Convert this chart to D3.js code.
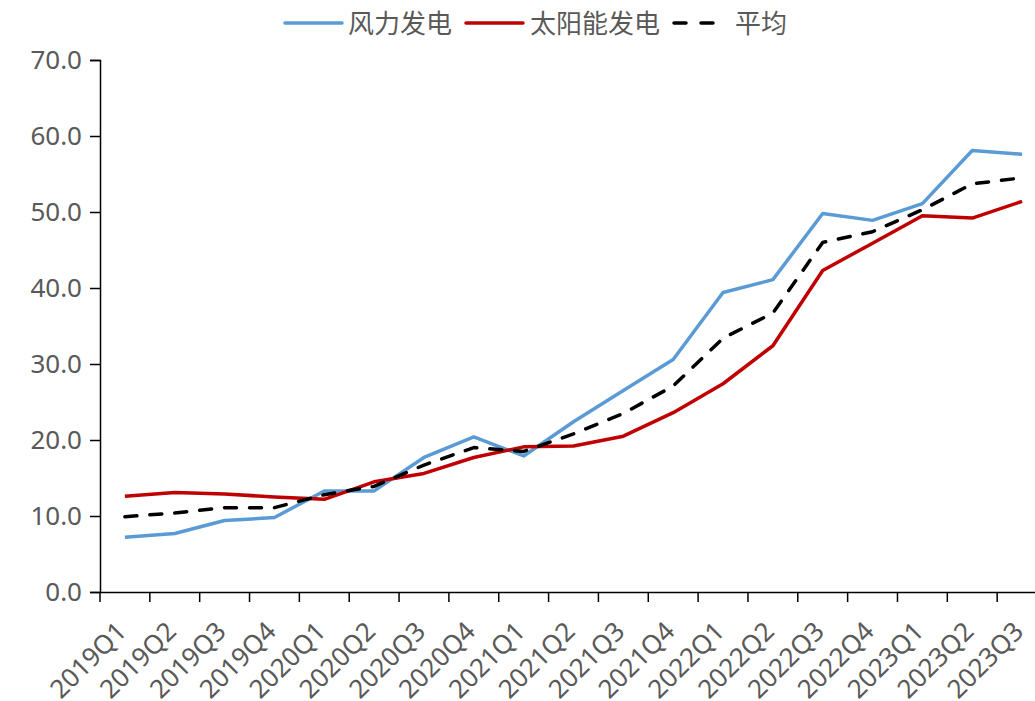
<!DOCTYPE html>
<html>
<head>
<meta charset="utf-8">
<script src="https://cdn.jsdelivr.net/npm/d3@7"></script>
<style>
  body { margin: 0; background: #fff; }
  text { font-family: "Noto Sans", "Noto Sans CJK SC", sans-serif; fill: #595959; }
</style>
</head>
<body>
<div id="plot"></div>
<script>
var width = 1035;
var height = 701;

var quarters = ['2019Q1','2019Q2','2019Q3','2019Q4','2020Q1','2020Q2','2020Q3','2020Q4',
                '2021Q1','2021Q2','2021Q3','2021Q4','2022Q1','2022Q2','2022Q3','2022Q4',
                '2023Q1','2023Q2','2023Q3'];
var wind  = [7.2, 7.7, 9.4, 9.8, 13.3, 13.3, 17.7, 20.4, 17.9, 22.4, 26.5, 30.6, 39.4, 41.1, 49.8, 48.9, 51.1, 58.1, 57.6];
var solar = [12.6, 13.1, 12.9, 12.5, 12.2, 14.5, 15.6, 17.7, 19.1, 19.2, 20.5, 23.6, 27.4, 32.4, 42.3, 45.9, 49.5, 49.2, 51.4];
var avg   = [9.9, 10.4, 11.1, 11.1, 12.8, 13.9, 16.7, 19.0, 18.5, 20.8, 23.5, 27.1, 33.4, 36.7, 46.0, 47.4, 50.3, 53.7, 54.5];
var y_ticks = [0, 10, 20, 30, 40, 50, 60, 70];

var series = [
    {name: '风力发电', values: wind, color: '#5B9BD5', dash: null},
    {name: '太阳能发电', values: solar, color: '#C00000', dash: null},
    {name: '平均', values: avg, color: '#000000', dash: '12,13'}
];

var canvas = d3.select('#plot')
    .append('svg')
    .attr('width', width)
    .attr('height', height);

var x_scale = d3.scaleBand()
    .domain(quarters)
    .range([100, 1047]);

var y_scale = d3.scaleLinear()
    .domain([0, 70])
    .range([592, 60]);

// y axis
var y_axis = d3.axisLeft(y_scale)
    .tickValues(y_ticks)
    .tickSize(10)
    .tickPadding(8)
    .tickFormat(function(d) { return d.toFixed(1); });

var gy = canvas.append('g')
    .attr('class', 'y-axis')
    .attr('transform', 'translate(100,0)')
    .call(y_axis);
gy.select('.domain').attr('stroke', '#000').attr('stroke-width', 1.5);
gy.selectAll('.tick line').attr('stroke', '#000').attr('stroke-width', 1.5);
gy.selectAll('.tick text').attr('font-size', 26).attr('fill', '#595959');

// x axis, ticks between categories
var x_axis = d3.axisBottom(x_scale).tickSize(0).tickFormat('');
var gx = canvas.append('g')
    .attr('class', 'x-axis')
    .attr('transform', 'translate(0,592)')
    .call(x_axis);
gx.select('.domain').attr('stroke', '#000').attr('stroke-width', 1.5);

var bounds = quarters.map(function(q) { return x_scale(q); });
bounds.push(x_scale.range()[1]);
gx.selectAll('line.cat-tick')
    .data(bounds)
    .enter()
    .append('line')
    .attr('class', 'cat-tick')
    .attr('x1', function(d) { return d; })
    .attr('x2', function(d) { return d; })
    .attr('y1', 0)
    .attr('y2', 10)
    .attr('stroke', '#000')
    .attr('stroke-width', 1.5);

canvas.selectAll('text.x-label')
    .data(quarters)
    .enter()
    .append('text')
    .attr('class', 'x-label')
    .attr('text-anchor', 'end')
    .attr('font-size', 26)
    .attr('transform', function(d) {
        var cx = x_scale(d) + x_scale.bandwidth() / 2;
        return 'translate(' + (cx + 3) + ',633) rotate(-45)';
    })
    .text(function(d) { return d; });

// lines
var line_gen = d3.line()
    .x(function(d, i) { return x_scale(quarters[i]) + x_scale.bandwidth() / 2; })
    .y(function(d) { return y_scale(d); });

canvas.selectAll('path.series')
    .data(series)
    .enter()
    .append('path')
    .attr('class', 'series')
    .attr('d', function(d) { return line_gen(d.values); })
    .attr('fill', 'none')
    .attr('stroke', function(d) { return d.color; })
    .attr('stroke-width', 3.5)
    .attr('stroke-linejoin', 'round')
    .attr('stroke-linecap', function(d) { return d.dash ? 'round' : 'butt'; })
    .attr('stroke-dasharray', function(d) { return d.dash; });

// legend
var legend_pos = [
    {x1: 285, x2: 342, tx: 348},
    {x1: 466, x2: 523, tx: 530},
    {x1: 674, x2: 715, tx: 735}
];
var legend = canvas.append('g').attr('class', 'legend');
series.forEach(function(s, i) {
    var p = legend_pos[i];
    legend.append('line')
        .attr('x1', p.x1).attr('x2', p.x2)
        .attr('y1', 23).attr('y2', 23)
        .attr('stroke', s.color)
        .attr('stroke-width', 3.5)
        .attr('stroke-linecap', 'round')
        .attr('stroke-dasharray', s.dash ? '12,15' : null);
    legend.append('text')
        .attr('x', p.tx)
        .attr('y', 33)
        .attr('font-size', 26)
        .text(s.name);
});
</script>
</body>
</html>
